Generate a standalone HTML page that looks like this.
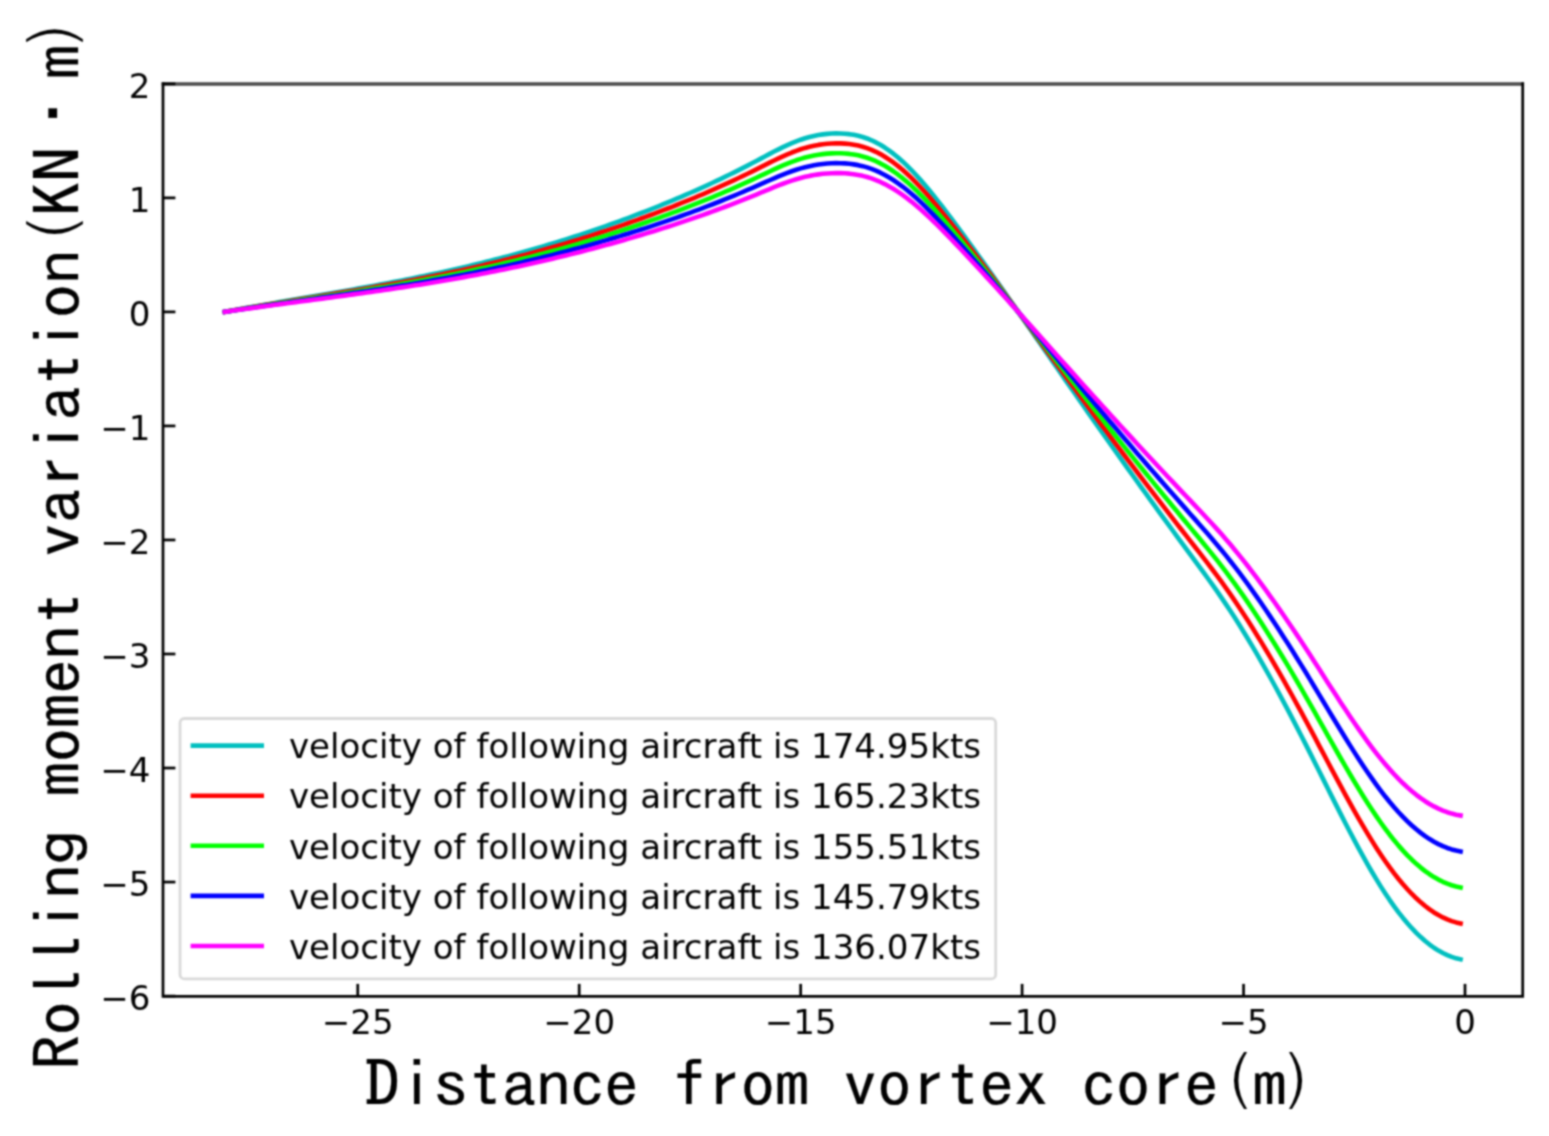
<!DOCTYPE html>
<html lang="en"><head><meta charset="utf-8"><title>Rolling moment variation</title>
<style>html,body{margin:0;padding:0;background:#fff}body{width:1549px;height:1136px;overflow:hidden}svg{display:block}.t{font-family:"DejaVu Sans","Liberation Sans",sans-serif;font-size:34.05px;fill:#000}.al{font-family:"IPAGothic","Liberation Mono",monospace;font-size:64.00px;fill:#000;stroke:#000;stroke-width:0.25px;text-anchor:middle;white-space:pre}</style></head><body>
<svg role="img" aria-label="Rolling moment variation versus distance from vortex core" width="1549" height="1136" viewBox="0 0 1549 1136">
<defs><filter id="soft" x="0" y="0" width="1549" height="1136" filterUnits="userSpaceOnUse" color-interpolation-filters="sRGB"><feConvolveMatrix order="5" kernelMatrix="0.00142 0.00904 0.01675 0.00904 0.00142 0.00904 0.05757 0.10673 0.05757 0.00904 0.01675 0.10673 0.19786 0.10673 0.01675 0.00904 0.05757 0.10673 0.05757 0.00904 0.00142 0.00904 0.01675 0.00904 0.00142" divisor="1" edgeMode="duplicate" preserveAlpha="true"/></filter></defs>
<g filter="url(#soft)">
<rect x="0" y="0" width="1549" height="1136" fill="#fff"/>
<g fill="none" stroke-width="4.60" stroke-linecap="square" stroke-linejoin="round">
<path d="M224.88 311.84 L229.31 311.02 L233.74 310.21 L238.17 309.40 L242.60 308.60 L247.03 307.81 L251.45 307.02 L255.88 306.24 L260.31 305.46 L264.74 304.69 L269.17 303.92 L273.60 303.15 L278.03 302.38 L282.46 301.62 L286.89 300.86 L291.32 300.10 L295.74 299.34 L300.17 298.59 L304.60 297.83 L309.03 297.07 L313.46 296.32 L317.89 295.56 L322.32 294.80 L326.75 294.04 L331.18 293.27 L335.61 292.50 L340.03 291.73 L344.46 290.96 L348.89 290.18 L353.32 289.40 L357.75 288.62 L362.18 287.82 L366.61 287.03 L371.04 286.22 L375.47 285.41 L379.90 284.60 L384.32 283.77 L388.75 282.94 L393.18 282.10 L397.61 281.25 L402.04 280.39 L406.47 279.52 L410.90 278.65 L415.33 277.76 L419.76 276.86 L424.19 275.95 L428.61 275.03 L433.04 274.09 L437.47 273.15 L441.90 272.19 L446.33 271.21 L450.76 270.23 L455.19 269.23 L459.62 268.21 L464.05 267.19 L468.48 266.14 L472.90 265.09 L477.33 264.01 L481.76 262.93 L486.19 261.83 L490.62 260.71 L495.05 259.58 L499.48 258.43 L503.91 257.27 L508.34 256.10 L512.77 254.90 L517.19 253.70 L521.62 252.47 L526.05 251.23 L530.48 249.98 L534.91 248.71 L539.34 247.42 L543.77 246.11 L548.20 244.79 L552.63 243.46 L557.06 242.10 L561.48 240.73 L565.91 239.34 L570.34 237.94 L574.77 236.51 L579.20 235.07 L583.63 233.62 L588.06 232.14 L592.49 230.65 L596.92 229.14 L601.35 227.61 L605.77 226.06 L610.20 224.50 L614.63 222.91 L619.06 221.31 L623.49 219.69 L627.92 218.05 L632.35 216.39 L636.78 214.72 L641.21 213.02 L645.64 211.30 L650.06 209.57 L654.49 207.81 L658.92 206.04 L663.35 204.24 L667.78 202.42 L672.21 200.58 L676.64 198.72 L681.07 196.84 L685.50 194.93 L689.93 193.01 L694.35 191.05 L698.78 189.07 L703.21 187.07 L707.64 185.05 L712.07 182.99 L716.50 180.92 L720.93 178.81 L725.36 176.68 L729.79 174.52 L734.22 172.33 L738.64 170.12 L743.07 167.88 L747.50 165.61 L751.93 163.30 L756.36 160.97 L760.79 158.62 L765.22 156.25 L769.65 153.90 L774.08 151.58 L778.51 149.33 L782.93 147.15 L787.36 145.08 L791.79 143.13 L796.22 141.33 L800.65 139.70 L805.08 138.26 L809.51 137.01 L813.94 135.95 L818.37 135.07 L822.80 134.38 L827.22 133.88 L831.65 133.56 L836.08 133.42 L840.51 133.46 L844.94 133.70 L849.37 134.16 L853.80 134.85 L858.23 135.79 L862.66 136.99 L867.09 138.49 L871.51 140.28 L875.94 142.40 L880.37 144.83 L884.80 147.57 L889.23 150.60 L893.66 153.93 L898.09 157.55 L902.52 161.44 L906.95 165.61 L911.38 170.04 L915.80 174.72 L920.23 179.62 L924.66 184.73 L929.09 190.01 L933.52 195.46 L937.95 201.06 L942.38 206.77 L946.81 212.58 L951.24 218.48 L955.67 224.43 L960.09 230.43 L964.52 236.47 L968.95 242.54 L973.38 248.64 L977.81 254.78 L982.24 260.94 L986.67 267.14 L991.10 273.36 L995.53 279.60 L999.96 285.87 L1004.38 292.16 L1008.81 298.46 L1013.24 304.79 L1017.67 311.12 L1022.10 317.48 L1026.53 323.84 L1030.96 330.21 L1035.39 336.59 L1039.82 342.98 L1044.25 349.37 L1048.67 355.76 L1053.10 362.16 L1057.53 368.55 L1061.96 374.94 L1066.39 381.32 L1070.82 387.70 L1075.25 394.06 L1079.68 400.42 L1084.11 406.76 L1088.54 413.09 L1092.96 419.40 L1097.39 425.70 L1101.82 431.98 L1106.25 438.25 L1110.68 444.50 L1115.11 450.73 L1119.54 456.95 L1123.97 463.15 L1128.40 469.34 L1132.83 475.52 L1137.25 481.68 L1141.68 487.83 L1146.11 493.96 L1150.54 500.08 L1154.97 506.19 L1159.40 512.28 L1163.83 518.37 L1168.26 524.43 L1172.69 530.49 L1177.12 536.53 L1181.54 542.57 L1185.97 548.59 L1190.40 554.60 L1194.83 560.60 L1199.26 566.61 L1203.69 572.66 L1208.12 578.75 L1212.55 584.92 L1216.98 591.19 L1221.41 597.57 L1225.83 604.10 L1230.26 610.77 L1234.69 617.61 L1239.12 624.59 L1243.55 631.71 L1247.98 638.98 L1252.41 646.39 L1256.84 653.92 L1261.27 661.58 L1265.70 669.36 L1270.12 677.25 L1274.55 685.26 L1278.98 693.37 L1283.41 701.59 L1287.84 709.91 L1292.27 718.33 L1296.70 726.84 L1301.13 735.43 L1305.56 744.11 L1309.99 752.87 L1314.41 761.68 L1318.84 770.53 L1323.27 779.40 L1327.70 788.26 L1332.13 797.10 L1336.56 805.89 L1340.99 814.61 L1345.42 823.24 L1349.85 831.77 L1354.28 840.16 L1358.70 848.40 L1363.13 856.47 L1367.56 864.35 L1371.99 872.01 L1376.42 879.43 L1380.85 886.60 L1385.28 893.50 L1389.71 900.09 L1394.14 906.37 L1398.57 912.33 L1402.99 917.95 L1407.42 923.25 L1411.85 928.20 L1416.28 932.81 L1420.71 937.08 L1425.14 940.99 L1429.57 944.54 L1434.00 947.74 L1438.43 950.57 L1442.86 953.05 L1447.28 955.17 L1451.71 956.93 L1456.14 958.32 L1460.57 959.36" stroke="#00bfbf"/>
<path d="M224.88 311.84 L229.31 311.07 L233.74 310.30 L238.17 309.54 L242.60 308.79 L247.03 308.04 L251.45 307.29 L255.88 306.55 L260.31 305.82 L264.74 305.09 L269.17 304.36 L273.60 303.63 L278.03 302.91 L282.46 302.19 L286.89 301.47 L291.32 300.76 L295.74 300.04 L300.17 299.33 L304.60 298.61 L309.03 297.90 L313.46 297.18 L317.89 296.46 L322.32 295.75 L326.75 295.03 L331.18 294.31 L335.61 293.58 L340.03 292.86 L344.46 292.12 L348.89 291.39 L353.32 290.65 L357.75 289.91 L362.18 289.16 L366.61 288.41 L371.04 287.65 L375.47 286.88 L379.90 286.11 L384.32 285.33 L388.75 284.55 L393.18 283.75 L397.61 282.95 L402.04 282.14 L406.47 281.32 L410.90 280.49 L415.33 279.65 L419.76 278.81 L424.19 277.95 L428.61 277.08 L433.04 276.19 L437.47 275.30 L441.90 274.39 L446.33 273.47 L450.76 272.54 L455.19 271.60 L459.62 270.64 L464.05 269.67 L468.48 268.69 L472.90 267.69 L477.33 266.67 L481.76 265.65 L486.19 264.61 L490.62 263.56 L495.05 262.49 L499.48 261.40 L503.91 260.31 L508.34 259.20 L512.77 258.07 L517.19 256.93 L521.62 255.77 L526.05 254.60 L530.48 253.42 L534.91 252.22 L539.34 251.00 L543.77 249.77 L548.20 248.52 L552.63 247.26 L557.06 245.98 L561.48 244.68 L565.91 243.37 L570.34 242.05 L574.77 240.70 L579.20 239.34 L583.63 237.97 L588.06 236.57 L592.49 235.16 L596.92 233.74 L601.35 232.29 L605.77 230.83 L610.20 229.35 L614.63 227.86 L619.06 226.34 L623.49 224.81 L627.92 223.27 L632.35 221.70 L636.78 220.11 L641.21 218.51 L645.64 216.89 L650.06 215.25 L654.49 213.60 L658.92 211.92 L663.35 210.22 L667.78 208.51 L672.21 206.77 L676.64 205.01 L681.07 203.23 L685.50 201.43 L689.93 199.61 L694.35 197.77 L698.78 195.90 L703.21 194.01 L707.64 192.09 L712.07 190.16 L716.50 188.19 L720.93 186.21 L725.36 184.19 L729.79 182.15 L734.22 180.09 L738.64 178.00 L743.07 175.88 L747.50 173.73 L751.93 171.56 L756.36 169.36 L760.79 167.13 L765.22 164.90 L769.65 162.68 L774.08 160.49 L778.51 158.36 L782.93 156.31 L787.36 154.35 L791.79 152.51 L796.22 150.81 L800.65 149.27 L805.08 147.91 L809.51 146.73 L813.94 145.72 L818.37 144.90 L822.80 144.25 L827.22 143.77 L831.65 143.47 L836.08 143.33 L840.51 143.37 L844.94 143.60 L849.37 144.03 L853.80 144.68 L858.23 145.57 L862.66 146.71 L867.09 148.12 L871.51 149.82 L875.94 151.82 L880.37 154.11 L884.80 156.70 L889.23 159.56 L893.66 162.71 L898.09 166.12 L902.52 169.80 L906.95 173.74 L911.38 177.93 L915.80 182.34 L920.23 186.97 L924.66 191.79 L929.09 196.79 L933.52 201.93 L937.95 207.21 L942.38 212.61 L946.81 218.10 L951.24 223.67 L955.67 229.29 L960.09 234.96 L964.52 240.66 L968.95 246.39 L973.38 252.15 L977.81 257.95 L982.24 263.77 L986.67 269.62 L991.10 275.50 L995.53 281.39 L999.96 287.31 L1004.38 293.25 L1008.81 299.21 L1013.24 305.18 L1017.67 311.17 L1022.10 317.17 L1026.53 323.18 L1030.96 329.20 L1035.39 335.22 L1039.82 341.25 L1044.25 347.29 L1048.67 353.33 L1053.10 359.37 L1057.53 365.40 L1061.96 371.44 L1066.39 377.46 L1070.82 383.49 L1075.25 389.50 L1079.68 395.50 L1084.11 401.49 L1088.54 407.47 L1092.96 413.43 L1097.39 419.38 L1101.82 425.31 L1106.25 431.23 L1110.68 437.13 L1115.11 443.02 L1119.54 448.89 L1123.97 454.75 L1128.40 460.60 L1132.83 466.43 L1137.25 472.25 L1141.68 478.05 L1146.11 483.85 L1150.54 489.63 L1154.97 495.40 L1159.40 501.15 L1163.83 506.89 L1168.26 512.63 L1172.69 518.35 L1177.12 524.05 L1181.54 529.75 L1185.97 535.44 L1190.40 541.11 L1194.83 546.78 L1199.26 552.46 L1203.69 558.17 L1208.12 563.93 L1212.55 569.75 L1216.98 575.67 L1221.41 581.70 L1225.83 587.86 L1230.26 594.17 L1234.69 600.62 L1239.12 607.22 L1243.55 613.95 L1247.98 620.81 L1252.41 627.80 L1256.84 634.92 L1261.27 642.15 L1265.70 649.50 L1270.12 656.95 L1274.55 664.52 L1278.98 672.18 L1283.41 679.94 L1287.84 687.80 L1292.27 695.75 L1296.70 703.78 L1301.13 711.90 L1305.56 720.10 L1309.99 728.37 L1314.41 736.69 L1318.84 745.05 L1323.27 753.42 L1327.70 761.79 L1332.13 770.14 L1336.56 778.44 L1340.99 786.68 L1345.42 794.83 L1349.85 802.88 L1354.28 810.81 L1358.70 818.59 L1363.13 826.21 L1367.56 833.65 L1371.99 840.89 L1376.42 847.90 L1380.85 854.67 L1385.28 861.18 L1389.71 867.41 L1394.14 873.34 L1398.57 878.97 L1402.99 884.28 L1407.42 889.28 L1411.85 893.96 L1416.28 898.32 L1420.71 902.34 L1425.14 906.04 L1429.57 909.39 L1434.00 912.41 L1438.43 915.09 L1442.86 917.43 L1447.28 919.43 L1451.71 921.09 L1456.14 922.41 L1460.57 923.39" stroke="#ff0000"/>
<path d="M224.88 311.85 L229.31 311.12 L233.74 310.40 L238.17 309.68 L242.60 308.97 L247.03 308.27 L251.45 307.56 L255.88 306.87 L260.31 306.18 L264.74 305.49 L269.17 304.80 L273.60 304.12 L278.03 303.44 L282.46 302.76 L286.89 302.09 L291.32 301.41 L295.74 300.74 L300.17 300.07 L304.60 299.39 L309.03 298.72 L313.46 298.05 L317.89 297.37 L322.32 296.70 L326.75 296.02 L331.18 295.34 L335.61 294.66 L340.03 293.98 L344.46 293.29 L348.89 292.60 L353.32 291.90 L357.75 291.20 L362.18 290.50 L366.61 289.79 L371.04 289.08 L375.47 288.36 L379.90 287.63 L384.32 286.90 L388.75 286.16 L393.18 285.41 L397.61 284.65 L402.04 283.89 L406.47 283.12 L410.90 282.34 L415.33 281.55 L419.76 280.75 L424.19 279.94 L428.61 279.12 L433.04 278.29 L437.47 277.45 L441.90 276.60 L446.33 275.74 L450.76 274.86 L455.19 273.97 L459.62 273.07 L464.05 272.15 L468.48 271.23 L472.90 270.29 L477.33 269.34 L481.76 268.37 L486.19 267.39 L490.62 266.40 L495.05 265.39 L499.48 264.38 L503.91 263.34 L508.34 262.30 L512.77 261.24 L517.19 260.16 L521.62 259.08 L526.05 257.97 L530.48 256.86 L534.91 255.73 L539.34 254.58 L543.77 253.42 L548.20 252.25 L552.63 251.06 L557.06 249.86 L561.48 248.64 L565.91 247.40 L570.34 246.16 L574.77 244.89 L579.20 243.61 L583.63 242.32 L588.06 241.00 L592.49 239.68 L596.92 238.33 L601.35 236.98 L605.77 235.60 L610.20 234.21 L614.63 232.80 L619.06 231.38 L623.49 229.94 L627.92 228.48 L632.35 227.01 L636.78 225.51 L641.21 224.01 L645.64 222.48 L650.06 220.94 L654.49 219.38 L658.92 217.80 L663.35 216.20 L667.78 214.59 L672.21 212.95 L676.64 211.30 L681.07 209.63 L685.50 207.93 L689.93 206.22 L694.35 204.48 L698.78 202.72 L703.21 200.94 L707.64 199.14 L712.07 197.32 L716.50 195.47 L720.93 193.60 L725.36 191.70 L729.79 189.79 L734.22 187.84 L738.64 185.87 L743.07 183.88 L747.50 181.86 L751.93 179.82 L756.36 177.74 L760.79 175.65 L765.22 173.55 L769.65 171.46 L774.08 169.40 L778.51 167.39 L782.93 165.46 L787.36 163.62 L791.79 161.89 L796.22 160.29 L800.65 158.84 L805.08 157.56 L809.51 156.44 L813.94 155.50 L818.37 154.72 L822.80 154.11 L827.22 153.66 L831.65 153.37 L836.08 153.25 L840.51 153.29 L844.94 153.50 L849.37 153.91 L853.80 154.52 L858.23 155.35 L862.66 156.43 L867.09 157.76 L871.51 159.35 L875.94 161.23 L880.37 163.39 L884.80 165.83 L889.23 168.53 L893.66 171.49 L898.09 174.70 L902.52 178.16 L906.95 181.87 L911.38 185.81 L915.80 189.96 L920.23 194.32 L924.66 198.86 L929.09 203.56 L933.52 208.40 L937.95 213.37 L942.38 218.45 L946.81 223.62 L951.24 228.86 L955.67 234.15 L960.09 239.48 L964.52 244.85 L968.95 250.24 L973.38 255.67 L977.81 261.12 L982.24 266.60 L986.67 272.11 L991.10 277.64 L995.53 283.19 L999.96 288.76 L1004.38 294.35 L1008.81 299.95 L1013.24 305.58 L1017.67 311.21 L1022.10 316.86 L1026.53 322.51 L1030.96 328.18 L1035.39 333.85 L1039.82 339.53 L1044.25 345.21 L1048.67 350.89 L1053.10 356.57 L1057.53 362.25 L1061.96 367.93 L1066.39 373.61 L1070.82 379.27 L1075.25 384.93 L1079.68 390.58 L1084.11 396.22 L1088.54 401.85 L1092.96 407.46 L1097.39 413.06 L1101.82 418.64 L1106.25 424.21 L1110.68 429.76 L1115.11 435.30 L1119.54 440.83 L1123.97 446.35 L1128.40 451.85 L1132.83 457.34 L1137.25 462.82 L1141.68 468.28 L1146.11 473.73 L1150.54 479.17 L1154.97 484.60 L1159.40 490.02 L1163.83 495.42 L1168.26 500.82 L1172.69 506.20 L1177.12 511.57 L1181.54 516.94 L1185.97 522.29 L1190.40 527.63 L1194.83 532.96 L1199.26 538.31 L1203.69 543.68 L1208.12 549.10 L1212.55 554.59 L1216.98 560.16 L1221.41 565.83 L1225.83 571.63 L1230.26 577.56 L1234.69 583.64 L1239.12 589.84 L1243.55 596.18 L1247.98 602.64 L1252.41 609.22 L1256.84 615.91 L1261.27 622.72 L1265.70 629.64 L1270.12 636.65 L1274.55 643.77 L1278.98 650.99 L1283.41 658.29 L1287.84 665.69 L1292.27 673.17 L1296.70 680.73 L1301.13 688.37 L1305.56 696.08 L1309.99 703.87 L1314.41 711.70 L1318.84 719.57 L1323.27 727.45 L1327.70 735.33 L1332.13 743.18 L1336.56 751.00 L1340.99 758.75 L1345.42 766.42 L1349.85 774.00 L1354.28 781.46 L1358.70 788.79 L1363.13 795.96 L1367.56 802.96 L1371.99 809.77 L1376.42 816.37 L1380.85 822.74 L1385.28 828.87 L1389.71 834.73 L1394.14 840.31 L1398.57 845.61 L1402.99 850.61 L1407.42 855.31 L1411.85 859.72 L1416.28 863.82 L1420.71 867.61 L1425.14 871.08 L1429.57 874.24 L1434.00 877.08 L1438.43 879.60 L1442.86 881.81 L1447.28 883.69 L1451.71 885.25 L1456.14 886.49 L1460.57 887.42" stroke="#00ff00"/>
<path d="M224.88 311.85 L229.31 311.17 L233.74 310.49 L238.17 309.82 L242.60 309.15 L247.03 308.49 L251.45 307.84 L255.88 307.18 L260.31 306.53 L264.74 305.89 L269.17 305.25 L273.60 304.61 L278.03 303.97 L282.46 303.33 L286.89 302.70 L291.32 302.07 L295.74 301.44 L300.17 300.81 L304.60 300.17 L309.03 299.54 L313.46 298.91 L317.89 298.28 L322.32 297.65 L326.75 297.01 L331.18 296.38 L335.61 295.74 L340.03 295.10 L344.46 294.45 L348.89 293.80 L353.32 293.15 L357.75 292.50 L362.18 291.84 L366.61 291.17 L371.04 290.50 L375.47 289.83 L379.90 289.15 L384.32 288.46 L388.75 287.77 L393.18 287.07 L397.61 286.36 L402.04 285.64 L406.47 284.92 L410.90 284.19 L415.33 283.45 L419.76 282.70 L424.19 281.94 L428.61 281.17 L433.04 280.39 L437.47 279.61 L441.90 278.81 L446.33 278.00 L450.76 277.17 L455.19 276.34 L459.62 275.50 L464.05 274.64 L468.48 273.77 L472.90 272.89 L477.33 272.00 L481.76 271.09 L486.19 270.17 L490.62 269.24 L495.05 268.30 L499.48 267.35 L503.91 266.38 L508.34 265.40 L512.77 264.40 L517.19 263.40 L521.62 262.38 L526.05 261.35 L530.48 260.30 L534.91 259.24 L539.34 258.17 L543.77 257.08 L548.20 255.98 L552.63 254.86 L557.06 253.74 L561.48 252.59 L565.91 251.44 L570.34 250.26 L574.77 249.08 L579.20 247.88 L583.63 246.66 L588.06 245.44 L592.49 244.19 L596.92 242.93 L601.35 241.66 L605.77 240.37 L610.20 239.06 L614.63 237.75 L619.06 236.41 L623.49 235.06 L627.92 233.69 L632.35 232.31 L636.78 230.91 L641.21 229.50 L645.64 228.07 L650.06 226.62 L654.49 225.16 L658.92 223.68 L663.35 222.18 L667.78 220.67 L672.21 219.14 L676.64 217.59 L681.07 216.02 L685.50 214.43 L689.93 212.82 L694.35 211.19 L698.78 209.55 L703.21 207.88 L707.64 206.19 L712.07 204.48 L716.50 202.75 L720.93 200.99 L725.36 199.22 L729.79 197.42 L734.22 195.60 L738.64 193.75 L743.07 191.88 L747.50 189.99 L751.93 188.07 L756.36 186.13 L760.79 184.16 L765.22 182.19 L769.65 180.23 L774.08 178.31 L778.51 176.42 L782.93 174.61 L787.36 172.89 L791.79 171.26 L796.22 169.76 L800.65 168.40 L805.08 167.20 L809.51 166.16 L813.94 165.27 L818.37 164.55 L822.80 163.97 L827.22 163.55 L831.65 163.28 L836.08 163.17 L840.51 163.20 L844.94 163.40 L849.37 163.78 L853.80 164.36 L858.23 165.14 L862.66 166.15 L867.09 167.39 L871.51 168.89 L875.94 170.65 L880.37 172.68 L884.80 174.96 L889.23 177.49 L893.66 180.26 L898.09 183.28 L902.52 186.52 L906.95 190.00 L911.38 193.69 L915.80 197.59 L920.23 201.67 L924.66 205.92 L929.09 210.33 L933.52 214.87 L937.95 219.53 L942.38 224.29 L946.81 229.14 L951.24 234.05 L955.67 239.01 L960.09 244.01 L964.52 249.04 L968.95 254.10 L973.38 259.18 L977.81 264.30 L982.24 269.44 L986.67 274.60 L991.10 279.78 L995.53 284.98 L999.96 290.21 L1004.38 295.45 L1008.81 300.70 L1013.24 305.97 L1017.67 311.25 L1022.10 316.55 L1026.53 321.85 L1030.96 327.16 L1035.39 332.48 L1039.82 337.80 L1044.25 343.13 L1048.67 348.45 L1053.10 353.78 L1057.53 359.11 L1061.96 364.43 L1066.39 369.75 L1070.82 375.06 L1075.25 380.37 L1079.68 385.67 L1084.11 390.95 L1088.54 396.23 L1092.96 401.49 L1097.39 406.73 L1101.82 411.97 L1106.25 417.19 L1110.68 422.40 L1115.11 427.59 L1119.54 432.77 L1123.97 437.94 L1128.40 443.10 L1132.83 448.25 L1137.25 453.38 L1141.68 458.51 L1146.11 463.62 L1150.54 468.72 L1154.97 473.81 L1159.40 478.88 L1163.83 483.95 L1168.26 489.01 L1172.69 494.06 L1177.12 499.09 L1181.54 504.12 L1185.97 509.14 L1190.40 514.15 L1194.83 519.15 L1199.26 524.16 L1203.69 529.19 L1208.12 534.27 L1212.55 539.42 L1216.98 544.64 L1221.41 549.96 L1225.83 555.39 L1230.26 560.96 L1234.69 566.65 L1239.12 572.47 L1243.55 578.41 L1247.98 584.47 L1252.41 590.63 L1256.84 596.91 L1261.27 603.29 L1265.70 609.78 L1270.12 616.36 L1274.55 623.03 L1278.98 629.79 L1283.41 636.64 L1287.84 643.58 L1292.27 650.59 L1296.70 657.68 L1301.13 664.84 L1305.56 672.07 L1309.99 679.37 L1314.41 686.71 L1318.84 694.09 L1323.27 701.48 L1327.70 708.86 L1332.13 716.23 L1336.56 723.55 L1340.99 730.82 L1345.42 738.01 L1349.85 745.12 L1354.28 752.11 L1358.70 758.98 L1363.13 765.70 L1367.56 772.27 L1371.99 778.65 L1376.42 784.84 L1380.85 790.81 L1385.28 796.56 L1389.71 802.05 L1394.14 807.29 L1398.57 812.25 L1402.99 816.94 L1407.42 821.35 L1411.85 825.48 L1416.28 829.32 L1420.71 832.87 L1425.14 836.13 L1429.57 839.09 L1434.00 841.76 L1438.43 844.12 L1442.86 846.18 L1447.28 847.95 L1451.71 849.42 L1456.14 850.58 L1460.57 851.45" stroke="#0000ff"/>
<path d="M224.88 311.85 L229.31 311.22 L233.74 310.59 L238.17 309.96 L242.60 309.34 L247.03 308.72 L251.45 308.11 L255.88 307.50 L260.31 306.89 L264.74 306.29 L269.17 305.69 L273.60 305.09 L278.03 304.50 L282.46 303.90 L286.89 303.31 L291.32 302.72 L295.74 302.13 L300.17 301.55 L304.60 300.96 L309.03 300.37 L313.46 299.78 L317.89 299.19 L322.32 298.60 L326.75 298.01 L331.18 297.41 L335.61 296.81 L340.03 296.22 L344.46 295.61 L348.89 295.01 L353.32 294.40 L357.75 293.79 L362.18 293.17 L366.61 292.55 L371.04 291.93 L375.47 291.30 L379.90 290.66 L384.32 290.02 L388.75 289.38 L393.18 288.72 L397.61 288.06 L402.04 287.39 L406.47 286.72 L410.90 286.04 L415.33 285.34 L419.76 284.65 L424.19 283.94 L428.61 283.22 L433.04 282.49 L437.47 281.76 L441.90 281.01 L446.33 280.26 L450.76 279.49 L455.19 278.71 L459.62 277.92 L464.05 277.12 L468.48 276.31 L472.90 275.49 L477.33 274.66 L481.76 273.81 L486.19 272.96 L490.62 272.09 L495.05 271.21 L499.48 270.32 L503.91 269.41 L508.34 268.50 L512.77 267.57 L517.19 266.63 L521.62 265.68 L526.05 264.72 L530.48 263.74 L534.91 262.75 L539.34 261.75 L543.77 260.73 L548.20 259.71 L552.63 258.67 L557.06 257.61 L561.48 256.55 L565.91 255.47 L570.34 254.37 L574.77 253.27 L579.20 252.15 L583.63 251.01 L588.06 249.87 L592.49 248.71 L596.92 247.53 L601.35 246.34 L605.77 245.14 L610.20 243.92 L614.63 242.69 L619.06 241.44 L623.49 240.18 L627.92 238.91 L632.35 237.62 L636.78 236.31 L641.21 234.99 L645.64 233.66 L650.06 232.31 L654.49 230.94 L658.92 229.56 L663.35 228.17 L667.78 226.75 L672.21 225.32 L676.64 223.88 L681.07 222.41 L685.50 220.93 L689.93 219.43 L694.35 217.91 L698.78 216.37 L703.21 214.81 L707.64 213.24 L712.07 211.64 L716.50 210.02 L720.93 208.39 L725.36 206.73 L729.79 205.05 L734.22 203.35 L738.64 201.63 L743.07 199.88 L747.50 198.12 L751.93 196.33 L756.36 194.51 L760.79 192.68 L765.22 190.84 L769.65 189.01 L774.08 187.21 L778.51 185.46 L782.93 183.77 L787.36 182.15 L791.79 180.64 L796.22 179.24 L800.65 177.97 L805.08 176.85 L809.51 175.88 L813.94 175.05 L818.37 174.37 L822.80 173.83 L827.22 173.44 L831.65 173.19 L836.08 173.08 L840.51 173.12 L844.94 173.30 L849.37 173.66 L853.80 174.19 L858.23 174.92 L862.66 175.86 L867.09 177.03 L871.51 178.42 L875.94 180.07 L880.37 181.96 L884.80 184.09 L889.23 186.45 L893.66 189.04 L898.09 191.85 L902.52 194.88 L906.95 198.12 L911.38 201.57 L915.80 205.21 L920.23 209.02 L924.66 212.99 L929.09 217.10 L933.52 221.34 L937.95 225.69 L942.38 230.13 L946.81 234.66 L951.24 239.24 L955.67 243.87 L960.09 248.54 L964.52 253.23 L968.95 257.95 L973.38 262.70 L977.81 267.47 L982.24 272.27 L986.67 277.08 L991.10 281.92 L995.53 286.78 L999.96 291.65 L1004.38 296.54 L1008.81 301.45 L1013.24 306.37 L1017.67 311.30 L1022.10 316.24 L1026.53 321.19 L1030.96 326.14 L1035.39 331.11 L1039.82 336.07 L1044.25 341.04 L1048.67 346.02 L1053.10 350.99 L1057.53 355.96 L1061.96 360.93 L1066.39 365.89 L1070.82 370.85 L1075.25 375.80 L1079.68 380.75 L1084.11 385.68 L1088.54 390.60 L1092.96 395.51 L1097.39 400.41 L1101.82 405.30 L1106.25 410.17 L1110.68 415.03 L1115.11 419.88 L1119.54 424.71 L1123.97 429.54 L1128.40 434.35 L1132.83 439.16 L1137.25 443.95 L1141.68 448.73 L1146.11 453.50 L1150.54 458.26 L1154.97 463.01 L1159.40 467.75 L1163.83 472.48 L1168.26 477.20 L1172.69 481.91 L1177.12 486.61 L1181.54 491.31 L1185.97 495.99 L1190.40 500.66 L1194.83 505.33 L1199.26 510.01 L1203.69 514.71 L1208.12 519.45 L1212.55 524.25 L1216.98 529.12 L1221.41 534.09 L1225.83 539.16 L1230.26 544.35 L1234.69 549.67 L1239.12 555.10 L1243.55 560.64 L1247.98 566.29 L1252.41 572.05 L1256.84 577.91 L1261.27 583.87 L1265.70 589.92 L1270.12 596.06 L1274.55 602.29 L1278.98 608.60 L1283.41 614.99 L1287.84 621.46 L1292.27 628.01 L1296.70 634.62 L1301.13 641.31 L1305.56 648.06 L1309.99 654.87 L1314.41 661.72 L1318.84 668.61 L1323.27 675.50 L1327.70 682.40 L1332.13 689.27 L1336.56 696.11 L1340.99 702.89 L1345.42 709.60 L1349.85 716.23 L1354.28 722.76 L1358.70 729.17 L1363.13 735.45 L1367.56 741.57 L1371.99 747.53 L1376.42 753.31 L1380.85 758.88 L1385.28 764.24 L1389.71 769.37 L1394.14 774.26 L1398.57 778.89 L1402.99 783.27 L1407.42 787.38 L1411.85 791.24 L1416.28 794.82 L1420.71 798.14 L1425.14 801.18 L1429.57 803.95 L1434.00 806.43 L1438.43 808.64 L1442.86 810.56 L1447.28 812.21 L1451.71 813.58 L1456.14 814.67 L1460.57 815.47" stroke="#ff00ff"/>
</g>
<line x1="161.65" y1="84.00" x2="1524.05" y2="84.00" stroke="#4a4a4a" stroke-width="3.7"/>
<path d="M163.00 82.20 V996.30 H1522.70 V82.20" fill="none" stroke="#000" stroke-width="2.70"/>
<g stroke="#000" stroke-width="2.70" stroke-linecap="butt">
<line x1="357.75" y1="996.30" x2="357.75" y2="983.90"/>
<line x1="579.20" y1="996.30" x2="579.20" y2="983.90"/>
<line x1="800.65" y1="996.30" x2="800.65" y2="983.90"/>
<line x1="1022.10" y1="996.30" x2="1022.10" y2="983.90"/>
<line x1="1243.55" y1="996.30" x2="1243.55" y2="983.90"/>
<line x1="1465.00" y1="996.30" x2="1465.00" y2="983.90"/>
<line x1="163.00" y1="996.08" x2="175.40" y2="996.08"/>
<line x1="163.00" y1="882.05" x2="175.40" y2="882.05"/>
<line x1="163.00" y1="768.02" x2="175.40" y2="768.02"/>
<line x1="163.00" y1="653.99" x2="175.40" y2="653.99"/>
<line x1="163.00" y1="539.96" x2="175.40" y2="539.96"/>
<line x1="163.00" y1="425.93" x2="175.40" y2="425.93"/>
<line x1="163.00" y1="311.90" x2="175.40" y2="311.90"/>
<line x1="163.00" y1="197.87" x2="175.40" y2="197.87"/>
<line x1="163.00" y1="83.84" x2="175.40" y2="83.84"/>
</g>
<g class="t" text-anchor="middle">
<text x="357.75" y="1034.40">−25</text>
<text x="579.20" y="1034.40">−20</text>
<text x="800.65" y="1034.40">−15</text>
<text x="1022.10" y="1034.40">−10</text>
<text x="1243.55" y="1034.40">−5</text>
<text x="1465.00" y="1034.40">0</text>
</g>
<g class="t" text-anchor="end">
<text x="150.40" y="1009.78">−6</text>
<text x="150.40" y="895.75">−5</text>
<text x="150.40" y="781.72">−4</text>
<text x="150.40" y="667.69">−3</text>
<text x="150.40" y="553.66">−2</text>
<text x="150.40" y="439.63">−1</text>
<text x="150.40" y="325.60">0</text>
<text x="150.40" y="211.57">1</text>
<text x="150.40" y="97.54">2</text>
</g>
<text class="al" xml:space="preserve" transform="scale(1.100 1)" x="347.91 378.92 409.93 440.93 471.94 502.95 533.96 564.96 595.97 626.98 657.99 688.99 720.00 751.01 782.01 813.02 844.03 875.04 906.04 937.05 968.06 999.07 1030.07 1061.08 1092.09 1127.91 1154.10 1177.75" y="1106.90 1106.90 1106.90 1106.90 1106.90 1106.90 1106.90 1106.90 1106.90 1106.90 1106.90 1106.90 1106.90 1106.90 1106.90 1106.90 1106.90 1106.90 1106.90 1106.90 1106.90 1106.90 1106.90 1106.90 1106.90 1100.90 1106.90 1100.90">Distance from vortex core<tspan style="font-family:'DejaVu Sans','Liberation Sans',sans-serif;font-size:66px;stroke:#fff;stroke-width:2.2px">(</tspan>m<tspan style="font-family:'DejaVu Sans','Liberation Sans',sans-serif;font-size:66px;stroke:#fff;stroke-width:2.2px">)</tspan></text>
<text class="al" xml:space="preserve" transform="translate(80.70 1069.50) rotate(-90) scale(1.100 1)" x="15.52 46.57 77.62 108.67 139.72 170.77 201.82 232.87 263.92 294.97 326.02 357.06 388.11 419.16 450.21 481.26 512.31 543.36 574.41 605.46 636.51 667.56 698.60 729.65 765.52 791.75 822.80 869.37 915.95 939.63" y="0.00 0.00 0.00 0.00 0.00 0.00 0.00 0.00 0.00 0.00 0.00 0.00 0.00 0.00 0.00 0.00 0.00 0.00 0.00 0.00 0.00 0.00 0.00 0.00 -6.00 0.00 0.00 -3.40 0.00 -6.00">Rolling moment variation<tspan style="font-family:'DejaVu Sans','Liberation Sans',sans-serif;font-size:66px;stroke:#fff;stroke-width:2.2px">(</tspan>KN·m<tspan style="font-family:'DejaVu Sans','Liberation Sans',sans-serif;font-size:66px;stroke:#fff;stroke-width:2.2px">)</tspan></text>
<rect x="180.00" y="718.50" width="815.70" height="260.40" rx="4.5" ry="4.5" fill="#fff" fill-opacity="0.8" stroke="#d0d0d0" stroke-opacity="0.8" stroke-width="2.8"/>
<line x1="190.60" y1="745.60" x2="264.00" y2="745.60" stroke="#00bfbf" stroke-width="4.60"/>
<text class="t" x="288.90" y="758.30">velocity of following aircraft is 174.95kts</text>
<line x1="190.60" y1="795.70" x2="264.00" y2="795.70" stroke="#ff0000" stroke-width="4.60"/>
<text class="t" x="288.90" y="808.40">velocity of following aircraft is 165.23kts</text>
<line x1="190.60" y1="845.80" x2="264.00" y2="845.80" stroke="#00ff00" stroke-width="4.60"/>
<text class="t" x="288.90" y="858.50">velocity of following aircraft is 155.51kts</text>
<line x1="190.60" y1="895.90" x2="264.00" y2="895.90" stroke="#0000ff" stroke-width="4.60"/>
<text class="t" x="288.90" y="908.60">velocity of following aircraft is 145.79kts</text>
<line x1="190.60" y1="946.00" x2="264.00" y2="946.00" stroke="#ff00ff" stroke-width="4.60"/>
<text class="t" x="288.90" y="958.70">velocity of following aircraft is 136.07kts</text>
</g></svg></body></html>
